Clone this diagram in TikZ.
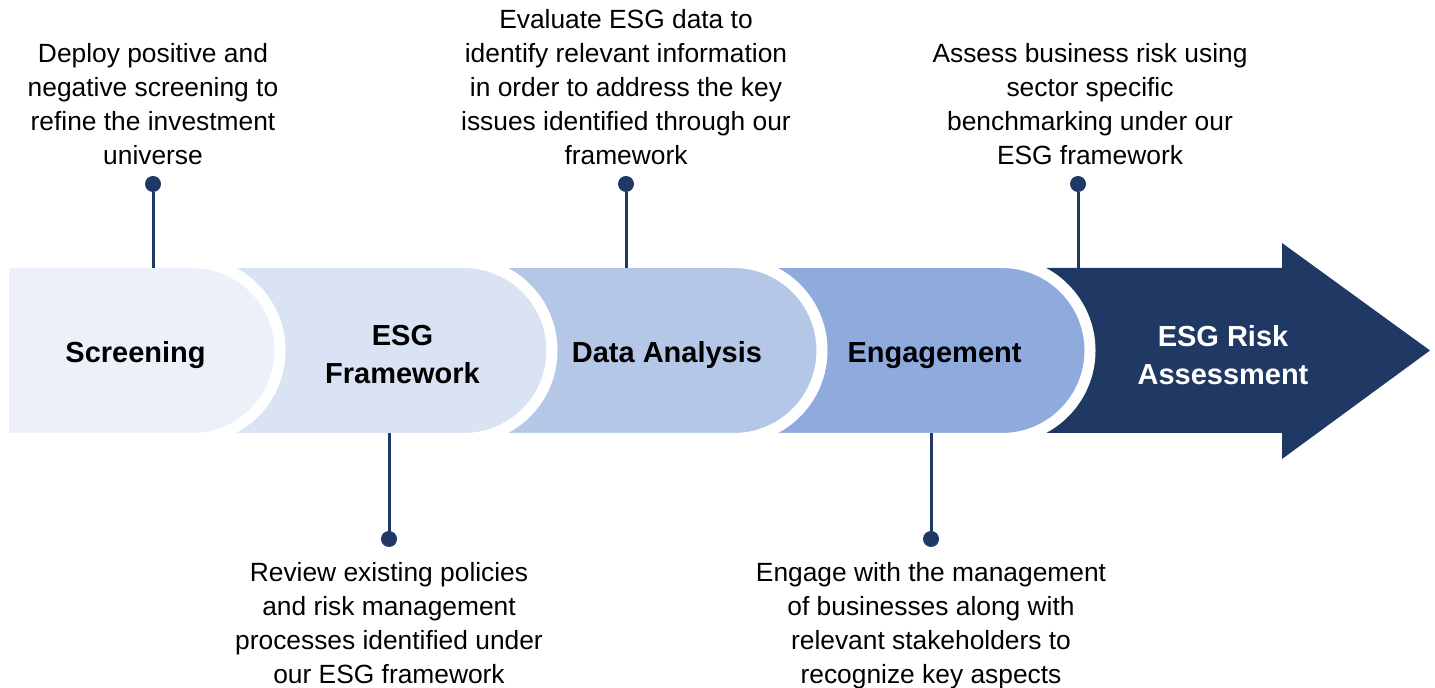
\documentclass[tikz,border=0pt]{standalone}
\usepackage{fontspec}
\setmainfont{Liberation Sans}
\usepackage{tikz}
\usetikzlibrary{positioning}
\definecolor{segone}{HTML}{EBF0F9}
\definecolor{segtwo}{HTML}{DAE3F3}
\definecolor{segthree}{HTML}{B4C7E7}
\definecolor{segfour}{HTML}{8FAADC}
\definecolor{navy}{HTML}{203864}
\tikzstyle{segment}=[draw=white, line width=0.22cm]
\tikzstyle{label}=[inner sep=0, align=center, font=\fontsize{16.5}{21.5}\selectfont\bfseries]
\tikzstyle{note}=[inner sep=0, align=center, font=\fontsize{15}{19.3}\selectfont]
\tikzstyle{pin dot}=[circle, fill=navy, inner sep=0, minimum size=0.32cm]
\tikzstyle{pin line}=[draw=navy, line width=0.06cm]

\begin{document}
\begin{tikzpicture}[x=0.02cm, y=0.02cm]
      \useasboundingbox (0,0) rectangle (1435,688);

      % arrow and the four half-round steps, right to left
      \fill [navy] (1000,420) -- (1282,420) -- (1282,445) -- (1430,337.5)
        -- (1282,229) -- (1282,255) -- (1000,255) -- cycle;
      \filldraw [segment, fill=segfour] (690,425.5) -- (1002,425.5)
        arc[start angle=90, end angle=-90, radius=88] -- (690,249.5) -- cycle;
      \filldraw [segment, fill=segthree] (420,425.5) -- (734,425.5)
        arc[start angle=90, end angle=-90, radius=88] -- (420,249.5) -- cycle;
      \filldraw [segment, fill=segtwo] (150,425.5) -- (464,425.5)
        arc[start angle=90, end angle=-90, radius=88] -- (150,249.5) -- cycle;
      \filldraw [segment, fill=segone] (3.5,425.5) -- (192,425.5)
        arc[start angle=90, end angle=-90, radius=88] -- (3.5,249.5) -- cycle;

      \node [label, anchor=base] (screening) at (135.5,325) {Screening};
      \node [label, anchor=north] (framework) at (402.5,363) {ESG\\Framework};
      \node [label, anchor=base] (analysis) at (667,325) {Data Analysis};
      \node [label, anchor=base] (engagement) at (934.5,325) {Engagement};
      \node [label, anchor=north, text=white] (risk) at (1223,363) {ESG Risk\\Assessment};

      % pins
      \coordinate (top1) at (153,420);
      \coordinate (top3) at (626,420);
      \coordinate (top5) at (1078,420);
      \coordinate (bot2) at (389,255);
      \coordinate (bot4) at (931,255);

      \node [pin dot] (dot1) at (153,504) {};
      \node [pin dot] (dot3) at (626,504) {};
      \node [pin dot] (dot5) at (1078,504) {};
      \node [pin dot] (dot2) at (389,149) {};
      \node [pin dot] (dot4) at (931,149) {};

      \draw [pin line] (dot1) -- (top1);
      \draw [pin line] (dot3) -- (top3);
      \draw [pin line] (dot5) -- (top5);
      \draw [pin line] (bot2) -- (dot2);
      \draw [pin line] (bot4) -- (dot4);

      \node [note, above=0.22cm of dot1] (deploy) {Deploy positive and\\negative screening to\\refine the investment\\universe};
      \node [note, above=0.22cm of dot3] (evaluate) {Evaluate ESG data to\\identify relevant information\\in order to address the key\\issues identified through our\\framework};
      \node [note, above=0.22cm of dot5, xshift=0.24cm] (assess) {Assess business risk using\\sector specific\\benchmarking under our\\ESG framework};
      \node [note, below=0.3cm of dot2] (review) {Review existing policies\\and risk management\\processes identified under\\our ESG framework};
      \node [note, below=0.3cm of dot4] (engage) {Engage with the management\\of businesses along with\\relevant stakeholders to\\recognize key aspects};
    \end{tikzpicture}
\end{document}
